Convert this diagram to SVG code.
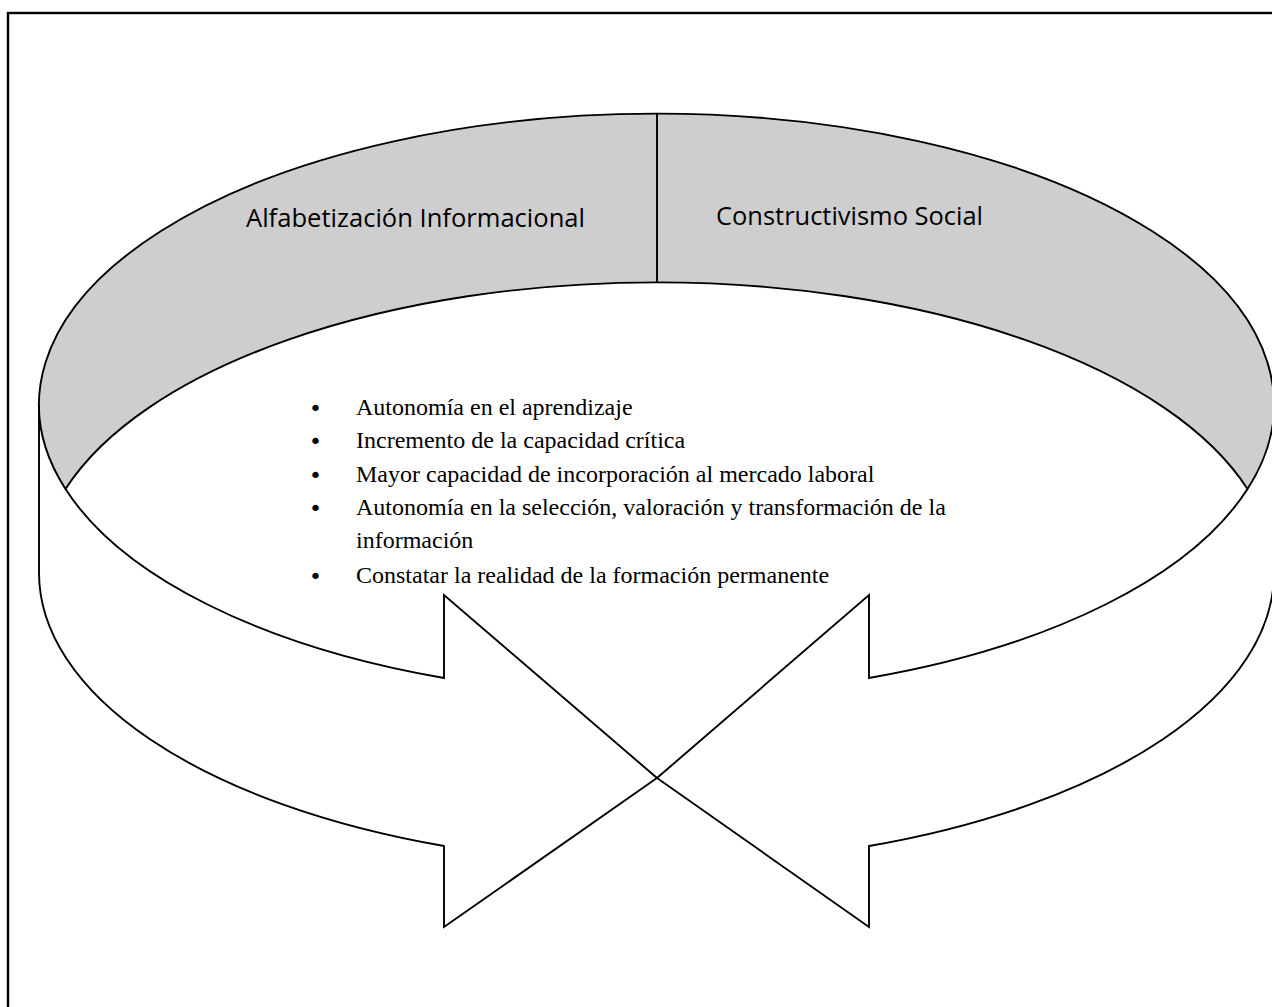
<svg xmlns="http://www.w3.org/2000/svg" width="1272" height="1007" viewBox="0 0 1272 1007">
  <style>
    .ln { fill: none; stroke: #000; stroke-width: 1.9; stroke-linejoin: miter; }
    .band { fill: #cecece; stroke: #000; stroke-width: 1.9; }
    .title { font-family: "Open Sans", "Liberation Sans", sans-serif; font-size: 25px; fill: #000; }
    .item { font-family: "Liberation Serif", "Times New Roman", serif; font-size: 24px; fill: #000; }
    .bul { font-family: "DejaVu Sans", sans-serif; font-size: 22px; fill: #000; }
  </style>
  <rect x="0" y="0" width="1272" height="1007" fill="#fff"/>
  <rect id="frame" x="8" y="13" width="1300" height="1050" fill="none" stroke="#000" stroke-width="2.4"/>

  <g id="ring-top">
    <path class="band" d="M65.5,489 A617.5,291 0 1,1 1247.5,489 A617.5,291 0 0,0 65.5,489 Z"/>
    <line class="ln" x1="657" y1="114" x2="657" y2="282"/>
    <text class="title" x="246" y="227" textLength="339" lengthAdjust="spacingAndGlyphs">Alfabetización Informacional</text>
    <text class="title" x="716" y="225" textLength="267" lengthAdjust="spacingAndGlyphs">Constructivismo Social</text>
  </g>

  <g id="connectors">
    <path id="left-arrow" class="ln" d="M65.5,489 A617.5,291 0 0,0 444,678 L444,595 L657,778 L444,927 L444,846 A617.5,291 0 0,1 39,573 L39,405"/>
    <path id="right-arrow" class="ln" d="M1247.5,489 A617.5,291 0 0,1 869,678 L869,595 L657,778 L869,927 L869,846 A617.5,291 0 0,0 1274,573 L1274,405"/>
  </g>

  <g id="list">
    <text class="bul" x="309" y="416">•</text>
    <text class="item" x="356" y="415">Autonomía en el aprendizaje</text>
    <text class="bul" x="309" y="449">•</text>
    <text class="item" x="356" y="448">Incremento de la capacidad crítica</text>
    <text class="bul" x="309" y="483">•</text>
    <text class="item" x="356" y="482">Mayor capacidad de incorporación al mercado laboral</text>
    <text class="bul" x="309" y="516">•</text>
    <text class="item" x="356" y="515">Autonomía en la selección, valoración y transformación de la</text>
    <text class="item" x="356" y="548">información</text>
    <text class="bul" x="309" y="584">•</text>
    <text class="item" x="356" y="583">Constatar la realidad de la formación permanente</text>
  </g>
</svg>
